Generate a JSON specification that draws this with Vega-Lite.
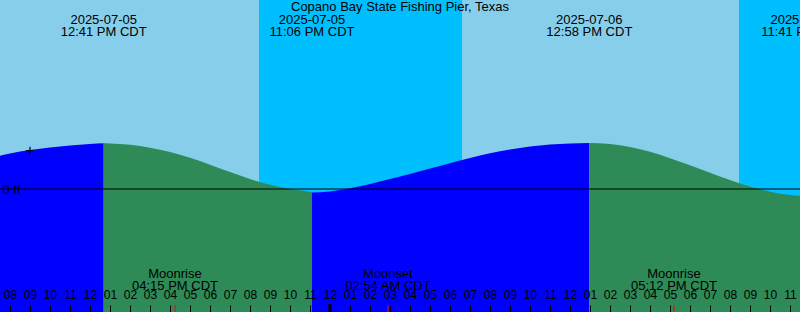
{
  "$schema": "https://vega.github.io/schema/vega-lite/v6.json",
  "width": 800,
  "height": 312,
  "padding": 0,
  "autosize": {"type": "none"},
  "background": "#87CEEB",
  "config": {"view": {"stroke": null}, "font": "Liberation Sans"},
  "title": {"text": "Copano Bay State Fishing Pier, Texas", "font": "Liberation Sans", "fontSize": 13, "fontWeight": "normal", "color": "black", "anchor": "middle", "frame": "group", "offset": -24, "baseline": "alphabetic"},
  "resolve": {"scale": {"color": "independent"}},
  "datasets": {
    "light": [
      {"start": "2025-07-05T07:30:00Z", "end": "2025-07-05T20:27:00Z", "period": "day"},
      {"start": "2025-07-05T20:27:00Z", "end": "2025-07-06T06:36:00Z", "period": "night"},
      {"start": "2025-07-06T06:36:00Z", "end": "2025-07-06T20:27:00Z", "period": "day"},
      {"start": "2025-07-06T20:27:00Z", "end": "2025-07-06T23:30:00Z", "period": "night"}
    ],
    "tide": [
      {"t": "2025-07-05T07:30:00Z", "h": 0.333, "seg": "r1", "dir": "rising"},
      {"t": "2025-07-05T08:00:00Z", "h": 0.355, "seg": "r1", "dir": "rising"},
      {"t": "2025-07-05T09:00:00Z", "h": 0.39, "seg": "r1", "dir": "rising"},
      {"t": "2025-07-05T10:00:00Z", "h": 0.415, "seg": "r1", "dir": "rising"},
      {"t": "2025-07-05T11:00:00Z", "h": 0.435, "seg": "r1", "dir": "rising"},
      {"t": "2025-07-05T12:00:00Z", "h": 0.45, "seg": "r1", "dir": "rising"},
      {"t": "2025-07-05T12:41:00Z", "h": 0.457, "seg": "r1", "dir": "rising"},
      {"t": "2025-07-05T12:41:00Z", "h": 0.457, "seg": "f1", "dir": "falling"},
      {"t": "2025-07-05T13:00:00Z", "h": 0.455, "seg": "f1", "dir": "falling"},
      {"t": "2025-07-05T14:00:00Z", "h": 0.442, "seg": "f1", "dir": "falling"},
      {"t": "2025-07-05T15:00:00Z", "h": 0.413, "seg": "f1", "dir": "falling"},
      {"t": "2025-07-05T16:00:00Z", "h": 0.37, "seg": "f1", "dir": "falling"},
      {"t": "2025-07-05T17:00:00Z", "h": 0.312, "seg": "f1", "dir": "falling"},
      {"t": "2025-07-05T18:00:00Z", "h": 0.243, "seg": "f1", "dir": "falling"},
      {"t": "2025-07-05T19:00:00Z", "h": 0.17, "seg": "f1", "dir": "falling"},
      {"t": "2025-07-05T20:00:00Z", "h": 0.1, "seg": "f1", "dir": "falling"},
      {"t": "2025-07-05T21:00:00Z", "h": 0.042, "seg": "f1", "dir": "falling"},
      {"t": "2025-07-05T22:00:00Z", "h": 0.0, "seg": "f1", "dir": "falling"},
      {"t": "2025-07-05T23:00:00Z", "h": -0.03, "seg": "f1", "dir": "falling"},
      {"t": "2025-07-05T23:06:00Z", "h": -0.035, "seg": "f1", "dir": "falling"},
      {"t": "2025-07-05T23:06:00Z", "h": -0.035, "seg": "r2", "dir": "rising"},
      {"t": "2025-07-06T00:00:00Z", "h": -0.025, "seg": "r2", "dir": "rising"},
      {"t": "2025-07-06T01:00:00Z", "h": 0.008, "seg": "r2", "dir": "rising"},
      {"t": "2025-07-06T02:00:00Z", "h": 0.051, "seg": "r2", "dir": "rising"},
      {"t": "2025-07-06T03:00:00Z", "h": 0.099, "seg": "r2", "dir": "rising"},
      {"t": "2025-07-06T04:00:00Z", "h": 0.15, "seg": "r2", "dir": "rising"},
      {"t": "2025-07-06T05:00:00Z", "h": 0.204, "seg": "r2", "dir": "rising"},
      {"t": "2025-07-06T06:00:00Z", "h": 0.258, "seg": "r2", "dir": "rising"},
      {"t": "2025-07-06T07:00:00Z", "h": 0.311, "seg": "r2", "dir": "rising"},
      {"t": "2025-07-06T08:00:00Z", "h": 0.357, "seg": "r2", "dir": "rising"},
      {"t": "2025-07-06T09:00:00Z", "h": 0.395, "seg": "r2", "dir": "rising"},
      {"t": "2025-07-06T10:00:00Z", "h": 0.425, "seg": "r2", "dir": "rising"},
      {"t": "2025-07-06T11:00:00Z", "h": 0.445, "seg": "r2", "dir": "rising"},
      {"t": "2025-07-06T12:00:00Z", "h": 0.456, "seg": "r2", "dir": "rising"},
      {"t": "2025-07-06T12:58:00Z", "h": 0.46, "seg": "r2", "dir": "rising"},
      {"t": "2025-07-06T12:58:00Z", "h": 0.46, "seg": "f2", "dir": "falling"},
      {"t": "2025-07-06T14:00:00Z", "h": 0.45, "seg": "f2", "dir": "falling"},
      {"t": "2025-07-06T15:00:00Z", "h": 0.42, "seg": "f2", "dir": "falling"},
      {"t": "2025-07-06T16:00:00Z", "h": 0.372, "seg": "f2", "dir": "falling"},
      {"t": "2025-07-06T17:00:00Z", "h": 0.308, "seg": "f2", "dir": "falling"},
      {"t": "2025-07-06T18:00:00Z", "h": 0.237, "seg": "f2", "dir": "falling"},
      {"t": "2025-07-06T19:00:00Z", "h": 0.163, "seg": "f2", "dir": "falling"},
      {"t": "2025-07-06T20:00:00Z", "h": 0.09, "seg": "f2", "dir": "falling"},
      {"t": "2025-07-06T21:00:00Z", "h": 0.025, "seg": "f2", "dir": "falling"},
      {"t": "2025-07-06T22:00:00Z", "h": -0.027, "seg": "f2", "dir": "falling"},
      {"t": "2025-07-06T23:00:00Z", "h": -0.06, "seg": "f2", "dir": "falling"},
      {"t": "2025-07-06T23:30:00Z", "h": -0.067, "seg": "f2", "dir": "falling"}
    ],
    "levels": [
      {"level": 0}
    ],
    "events": [
      {"t": "2025-07-05T12:41:00Z", "date": "2025-07-05", "time": "12:41 PM CDT"},
      {"t": "2025-07-05T23:06:00Z", "date": "2025-07-05", "time": "11:06 PM CDT"},
      {"t": "2025-07-06T12:58:00Z", "date": "2025-07-06", "time": "12:58 PM CDT"},
      {"t": "2025-07-06T23:41:00Z", "date": "2025-07-06", "time": "11:41 PM CDT"}
    ],
    "moon": [
      {"t": "2025-07-05T16:15:00Z", "event": "Moonrise", "time": "04:15 PM CDT"},
      {"t": "2025-07-06T02:54:00Z", "event": "Moonset", "time": "02:54 AM CDT"},
      {"t": "2025-07-06T17:12:00Z", "event": "Moonrise", "time": "05:12 PM CDT"}
    ],
    "midnight": [
      {"t": "2025-07-06T00:00:00Z"}
    ],
    "marker": [
      {"t": "2025-07-05T09:00:00Z", "h": 0.385, "sym": "+"}
    ]
  },
  "layer": [
    {
      "data": {"name": "light"},
      "mark": {"type": "rect"},
      "encoding": {
        "x": {
          "field": "start", "type": "temporal",
          "scale": {"type": "utc", "nice": false, "domain": [1751700600000, 1751844600000]},
          "axis": {
            "orient": "top", "offset": -312, "domain": false, "grid": false, "title": null,
            "tickCount": 40, "format": "%I",
            "tickSize": 7, "tickColor": "black", "tickWidth": 1,
            "labelFont": "Liberation Sans", "labelFontSize": 12, "labelColor": "black",
            "labelPadding": 4, "labelFlush": false, "labelOverlap": false,
            "zindex": 1
          }
        },
        "x2": {"field": "end"},
        "color": {"field": "period", "type": "nominal", "legend": null, "scale": {"domain": ["day", "night"], "range": ["#87CEEB", "#00BFFF"]}}
      }
    },
    {
      "data": {"name": "tide"},
      "mark": {"type": "area", "interpolate": "monotone"},
      "encoding": {
        "x": {"field": "t", "type": "temporal"},
        "y": {
          "field": "h", "type": "quantitative",
          "scale": {"domain": [-1.23, 1.89], "nice": false, "zero": false},
          "axis": {
            "orient": "left", "offset": -22, "values": [0], "labelExpr": "'0 ft'",
            "domain": false, "grid": false, "title": null, "ticks": false,
            "labelPadding": 2, "labelFont": "Liberation Sans", "labelFontSize": 13, "labelColor": "black",
            "labelBaseline": "middle", "labelAlign": "right", "zindex": 1
          }
        },
        "y2": {"datum": -1.23},
        "detail": {"field": "seg", "type": "nominal"},
        "color": {"field": "dir", "type": "nominal", "legend": null, "scale": {"domain": ["rising", "falling"], "range": ["#0000FF", "#2E8B57"]}}
      }
    },
    {
      "data": {"name": "levels"},
      "mark": {"type": "rule", "color": "black", "strokeWidth": 1},
      "encoding": {
        "y": {"field": "level", "type": "quantitative"}
      }
    },
    {
      "data": {"name": "marker"},
      "mark": {"type": "text", "font": "Liberation Sans", "fontSize": 16, "color": "black", "align": "center", "baseline": "middle"},
      "encoding": {
        "x": {"field": "t", "type": "temporal"},
        "y": {"field": "h", "type": "quantitative"},
        "text": {"field": "sym", "type": "nominal"}
      }
    },
    {
      "data": {"name": "moon"},
      "mark": {"type": "rule", "color": "#FF0000", "strokeWidth": 1},
      "encoding": {
        "x": {"field": "t", "type": "temporal"},
        "y": {"value": 305},
        "y2": {"value": 312}
      }
    },
    {
      "data": {"name": "midnight"},
      "mark": {"type": "rule", "color": "black", "strokeWidth": 3},
      "encoding": {
        "x": {"field": "t", "type": "temporal"},
        "y": {"value": 304},
        "y2": {"value": 312}
      }
    },
    {
      "data": {"name": "moon"},
      "mark": {"type": "text", "font": "Liberation Sans", "fontSize": 13, "color": "black", "align": "center", "baseline": "alphabetic"},
      "encoding": {
        "x": {"field": "t", "type": "temporal"},
        "y": {"value": 278},
        "text": {"field": "event", "type": "nominal"}
      }
    },
    {
      "data": {"name": "moon"},
      "mark": {"type": "text", "font": "Liberation Sans", "fontSize": 13, "color": "black", "align": "center", "baseline": "alphabetic"},
      "encoding": {
        "x": {"field": "t", "type": "temporal"},
        "y": {"value": 289.5},
        "text": {"field": "time", "type": "nominal"}
      }
    },
    {
      "data": {"name": "events"},
      "mark": {"type": "text", "font": "Liberation Sans", "fontSize": 13, "color": "black", "align": "center", "baseline": "alphabetic"},
      "encoding": {
        "x": {"field": "t", "type": "temporal"},
        "y": {"value": 24},
        "text": {"field": "date", "type": "nominal"}
      }
    },
    {
      "data": {"name": "events"},
      "mark": {"type": "text", "font": "Liberation Sans", "fontSize": 13, "color": "black", "align": "center", "baseline": "alphabetic"},
      "encoding": {
        "x": {"field": "t", "type": "temporal"},
        "y": {"value": 36},
        "text": {"field": "time", "type": "nominal"}
      }
    }
  ]
}
